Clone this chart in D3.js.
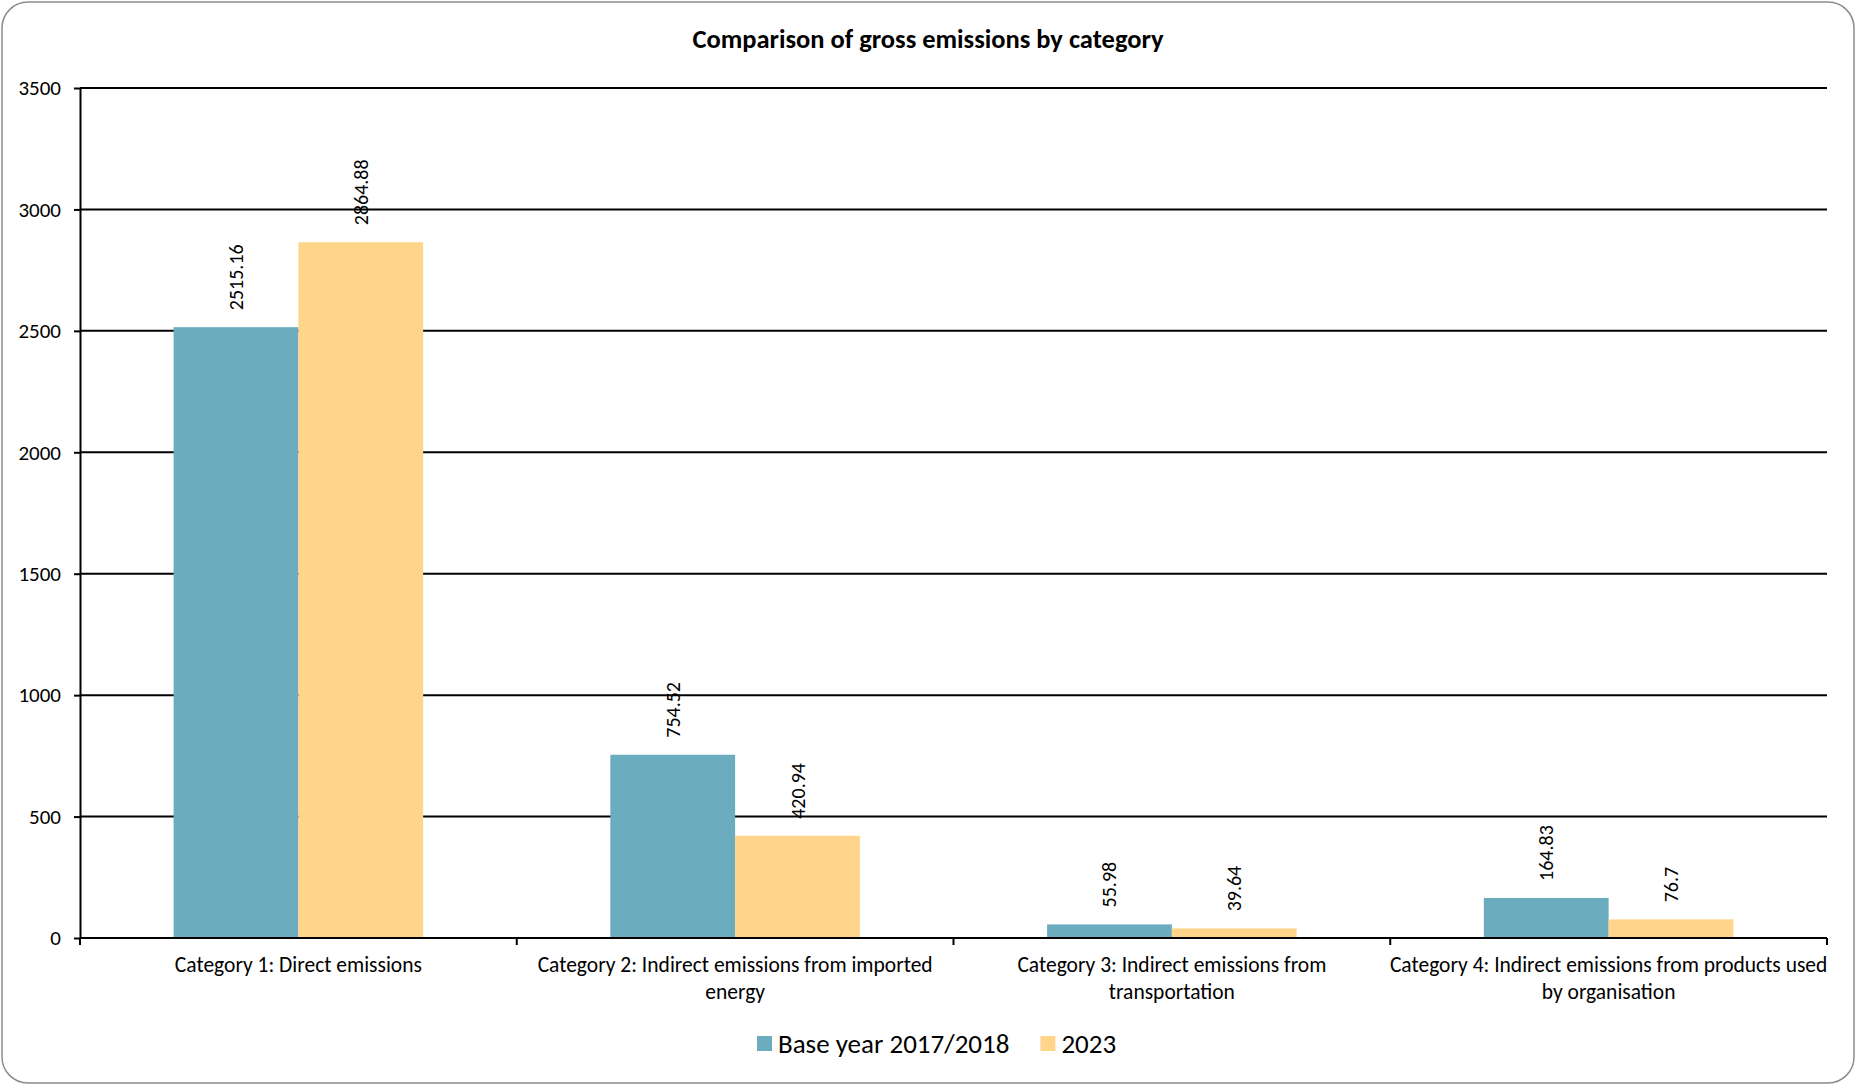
<!DOCTYPE html>
<html>
<head>
<meta charset="utf-8">
<script src="https://cdn.jsdelivr.net/npm/d3@7"></script>
<style>
    body { margin: 0; background: #fff; }
    text { font-family: Carlito, Calibri, Lato, sans-serif; fill: #000; }
</style>
</head>
<body>
<div id="chart"></div>
<script>
// chart data
const categories = [
    "Category 1: Direct emissions",
    "Category 2: Indirect emissions from imported\nenergy",
    "Category 3: Indirect emissions from\ntransportation",
    "Category 4: Indirect emissions from products used\nby organisation"
];
const seriesNames = ["Base year 2017/2018", "2023"];
const baseYear = [2515.16, 754.52, 55.98, 164.83];
const year2023 = [2864.88, 420.94, 39.64, 76.7];
const yTicks = [0, 500, 1000, 1500, 2000, 2500, 3000, 3500];

const colors = ["#6BADBF", "#FFD58B"];

const W = 1856, H = 1085;
const margin = {top: 88, right: 29, bottom: 147, left: 80};
const width = W - margin.left - margin.right;
const height = H - margin.top - margin.bottom;

const svg = d3.select("#chart").append("svg")
    .attr("width", W)
    .attr("height", H);

// outer frame
svg.append("rect")
    .attr("x", 2).attr("y", 2)
    .attr("width", W - 4).attr("height", H - 4)
    .attr("rx", 26).attr("ry", 26)
    .attr("fill", "#fff")
    .attr("stroke", "#8c8c8c")
    .attr("stroke-width", 1.5);

svg.append("text")
    .attr("x", 928)
    .attr("y", 48)
    .attr("text-anchor", "middle")
    .style("font-size", "26.5px")
    .style("font-weight", "bold")
    .text("Comparison of gross emissions by category");

const g = svg.append("g")
    .attr("transform", "translate(" + margin.left + "," + margin.top + ")");

// scales
const x = d3.scaleBand()
    .domain(categories)
    .range([0, width]);

const xSeries = d3.scaleBand()
    .domain(seriesNames)
    .range([0, x.bandwidth()])
    .paddingOuter(0.75);

const y = d3.scaleLinear()
    .domain([0, 3500])
    .range([height, 0]);

// gridlines
g.selectAll("line.grid")
    .data(yTicks.filter(d => d > 0))
    .enter().append("line")
    .attr("class", "grid")
    .attr("x1", 0).attr("x2", width)
    .attr("y1", d => y(d)).attr("y2", d => y(d))
    .attr("stroke", "#000")
    .attr("stroke-width", 2);

// y axis
const yAxis = d3.axisLeft(y)
    .tickValues(yTicks)
    .tickFormat(d3.format("d"))
    .tickSize(6)
    .tickSizeOuter(0)
    .tickPadding(13);

g.append("g")
    .attr("class", "y-axis")
    .call(yAxis)
    .call(ax => ax.selectAll("path, line").attr("stroke", "#000").attr("stroke-width", 2))
    .call(ax => ax.selectAll("text").style("font-size", "21px").style("font-family", "Carlito, Calibri, Lato, sans-serif"));

// bars
const rows = categories.map((c, i) => ({cat: c, values: [baseYear[i], year2023[i]]}));

const groups = g.selectAll("g.cat")
    .data(rows)
    .enter().append("g")
    .attr("class", "cat")
    .attr("transform", d => "translate(" + x(d.cat) + ",0)");

groups.selectAll("rect")
    .data(d => d.values.map((v, j) => ({series: seriesNames[j], value: v, color: colors[j]})))
    .enter().append("rect")
    .attr("x", d => xSeries(d.series))
    .attr("y", d => y(d.value))
    .attr("width", xSeries.bandwidth())
    .attr("height", d => height - y(d.value))
    .attr("fill", d => d.color);

// value labels
groups.selectAll("text.value")
    .data(d => d.values.map((v, j) => ({series: seriesNames[j], value: v})))
    .enter().append("text")
    .attr("class", "value")
    .attr("transform", d => "translate(" + (xSeries(d.series) + xSeries.bandwidth() / 2) + "," + (y(d.value) - 17) + ") rotate(-90)")
    .attr("dy", "0.35em")
    .style("font-size", "20px")
    .text(d => d.value);

// x axis
g.append("line")
    .attr("x1", 0).attr("x2", width)
    .attr("y1", height).attr("y2", height)
    .attr("stroke", "#000")
    .attr("stroke-width", 2);

const xTicks = categories.map(c => x(c)).concat([width]);
g.selectAll("line.xtick")
    .data(xTicks)
    .enter().append("line")
    .attr("class", "xtick")
    .attr("x1", d => d).attr("x2", d => d)
    .attr("y1", height).attr("y2", height + 7)
    .attr("stroke", "#000")
    .attr("stroke-width", 2);

const catLabels = g.selectAll("text.cat-label")
    .data(categories)
    .enter().append("text")
    .attr("class", "cat-label")
    .attr("text-anchor", "middle")
    .attr("transform", d => "translate(" + (x(d) + x.bandwidth() / 2) + "," + (height + 34) + ")")
    .style("font-size", "21.5px");

catLabels.selectAll("tspan")
    .data(d => d.split("\n"))
    .enter().append("tspan")
    .attr("x", 0)
    .attr("dy", (d, i) => i === 0 ? 0 : 27)
    .text(d => d);

// legend
const legend = svg.append("g")
    .attr("transform", "translate(757,1044)");

let lx = 0;
seriesNames.forEach((name, i) => {
    legend.append("rect")
        .attr("x", lx).attr("y", -8)
        .attr("width", 15).attr("height", 15)
        .attr("fill", colors[i]);
    const t = legend.append("text")
        .attr("x", lx + 21)
        .attr("y", 9)
        .style("font-size", "27px")
        .text(name);
    lx += 21 + t.node().getComputedTextLength() + 31;
});
</script>
</body>
</html>
